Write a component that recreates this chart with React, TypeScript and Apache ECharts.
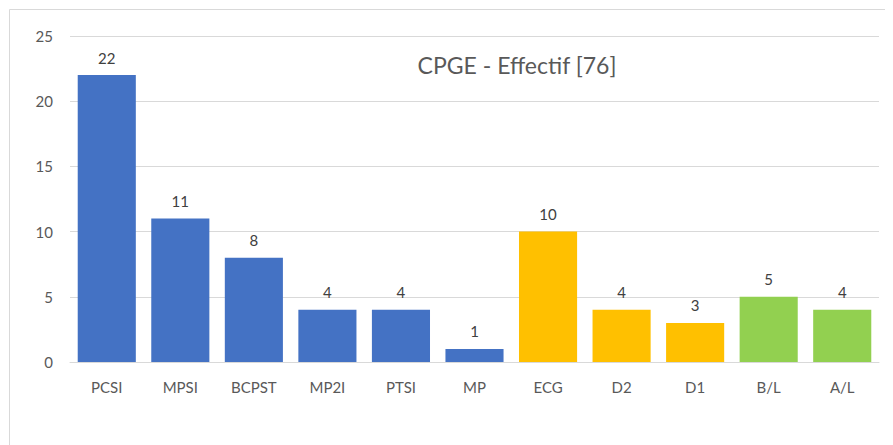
import React, { useEffect, useRef } from "react";
import * as echarts from "echarts";

const categories = ["PCSI", "MPSI", "BCPST", "MP2I", "PTSI", "MP", "ECG", "D2", "D1", "B/L", "A/L"];
const values = [22, 11, 8, 4, 4, 1, 10, 4, 3, 5, 4];
const groups = ["sci", "sci", "sci", "sci", "sci", "sci", "eco", "eco", "eco", "lit", "lit"];
const groupColors: Record<string, string> = { sci: "#4472C4", eco: "#FFC000", lit: "#92D050" };
const titleText = "CPGE - Effectif [76]";

const FONT = "Lato, 'Noto Sans', sans-serif";

export default function App() {
  const ref = useRef<HTMLDivElement>(null);
  useEffect(() => {
    if (!ref.current) return;
    const chart = echarts.init(ref.current, undefined, { renderer: "svg" });
    chart.setOption({
      animation: false,
      textStyle: { fontFamily: FONT },
      grid: { left: 62, right: 14, top: 28, bottom: 83, containLabel: false },
      xAxis: {
        type: "category",
        data: categories,
        axisTick: { show: false },
        axisLine: { lineStyle: { color: "#d9d9d9", width: 1 } },
        axisLabel: { color: "#595959", fontSize: 15, margin: 17, fontFamily: FONT },
      },
      yAxis: {
        type: "value",
        min: 0,
        max: 25,
        interval: 5,
        axisLine: { show: false },
        axisTick: { show: false },
        splitLine: { lineStyle: { color: "#d9d9d9", width: 1 } },
        axisLabel: { color: "#595959", fontSize: 15, margin: 17, fontFamily: FONT },
      },
      graphic: [
        {
          type: "rect",
          shape: { x: 1.5, y: 1.5, width: 1000, height: 1000 },
          style: { fill: "none", stroke: "#d9d9d9", lineWidth: 1 },
          silent: true,
        },
        {
          type: "text",
          x: 509,
          y: 57,
          style: {
            text: titleText,
            fontSize: 23,
            fontFamily: FONT,
            fill: "#595959",
            textAlign: "center",
            textVerticalAlign: "middle",
          },
        },
      ],
      series: [
        {
          type: "bar",
          barCategoryGap: "21%",
          data: values.map((v, i) => ({ value: v, itemStyle: { color: groupColors[groups[i]] } })),
          label: {
            show: true,
            position: "top",
            distance: 10,
            color: "#404040",
            fontSize: 15,
            fontFamily: FONT,
          },
        },
      ],
    });
    return () => chart.dispose();
  }, []);
  return <div ref={ref} style={{ width: 885, height: 437, background: "#fff" }} />;
}
